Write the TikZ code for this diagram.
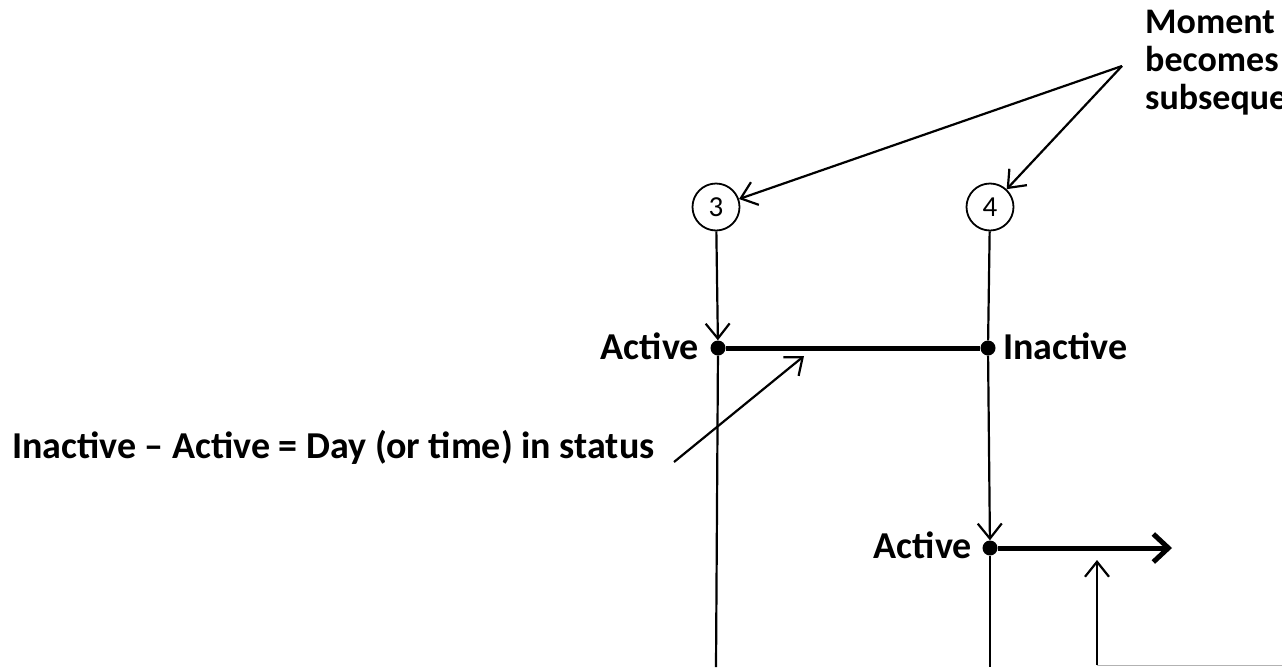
\documentclass[tikz,border=0pt]{standalone}
\usepackage{fontspec}
\setmainfont{Carlito}
\usetikzlibrary{arrows.meta}
\tikzstyle{Moment}=[circle, draw=black, line width=1.8pt, minimum size=47pt, inner sep=0pt, font=\fontsize{29}{32}\selectfont]
\tikzstyle{Dot}=[circle, fill=black, minimum size=15pt, inner sep=0pt]
\tikzstyle{Tag}=[inner sep=0pt, font=\fontsize{38}{40}\selectfont\bfseries]
\tikzstyle{Note}=[inner sep=0pt, font=\fontsize{36}{38}\selectfont\bfseries]
\tikzstyle{Thin}=[line width=2.2pt, -{Straight Barb[length=15pt,width=24pt]}]

\begin{document}
\begin{tikzpicture}[x=1pt, y=-1pt]
    \useasboundingbox (0,0) rectangle (1282,667);
    \clip (0,0) rectangle (1282,667);
    \path
    (716,207) node[Moment] (n3) {3}
    (990,207) node[Moment] (n4) {4}
    (718,348) node[Dot] (a3) {}
    (988,348) node[Dot] (i4) {}
    (990,548) node[Dot] (a4) {};

    \path
    (1145,33) node[Note, anchor=base west] (mom1) {Moment}
    (1145,71) node[Note, anchor=base west] (mom2) {becomes}
    (1145,109) node[Note, anchor=base west] (mom3) {subsequent}
    (699,359) node[Tag, anchor=base east] (act3) {Active}
    (1003,359) node[Tag, anchor=base west] (ina4) {Inactive}
    (972,558) node[Tag, anchor=base east] (act4) {Active}
    (12,458) node[Tag, anchor=base west] (diff) {Inactive – Active = Day (or time) in status};

    \coordinate (mnt) at (1122,66);
    \coordinate (b3) at (716,667);
    \coordinate (b4) at (990,667);
    \coordinate (go) at (1172,548);
    \coordinate (dfrom) at (674,462);
    \coordinate (dto) at (804,356);
    \coordinate (lb) at (1097,665);
    \coordinate (lt) at (1097,560);

    \draw[Thin] (mnt) -- (n3);
    \draw[Thin] (mnt) -- (n4);
    \draw[Thin] (n3) -- (a3);
    \draw[line width=2.2pt] (n4) -- (i4);
    \draw[Thin] (i4) -- (a4);
    \draw[line width=2.2pt] (a3) -- (b3);
    \draw[line width=2.2pt] (a4) -- (b4);
    \draw[line width=5pt] (a3) -- (i4);
    \draw[line width=5pt, -{Straight Barb[length=15pt,width=28pt]}] (a4) -- (go);
    \draw[Thin] (dfrom) -- (dto);
    \draw[Thin] (lb) -- (lt);
    \draw[gray!60, line width=1pt] (lb) -- (1282,665);
\end{tikzpicture}
\end{document}
